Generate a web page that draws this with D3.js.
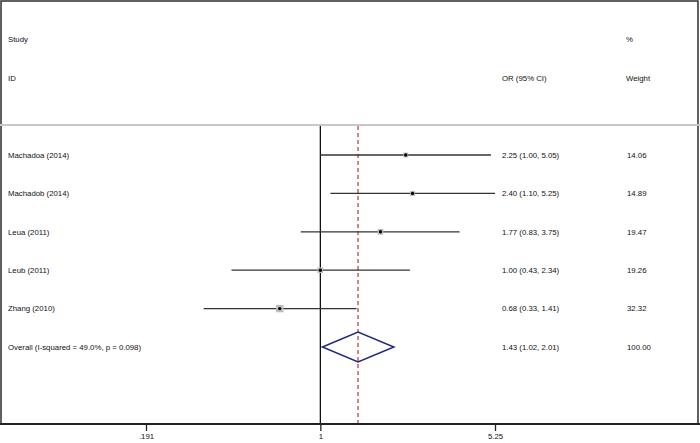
<!DOCTYPE html>
<html>
<head>
<meta charset="utf-8">
<script src="https://cdn.jsdelivr.net/npm/d3@7"></script>
<style>
  body { margin: 0; background: #fff; }
  text { font-family: "Liberation Sans", Arial, sans-serif; fill: #111; }
</style>
</head>
<body>
<div id="forest"></div>
<script>
var width = 700;
var height = 443;

// study data
var studies = ["Machadoa (2014)", "Machadob (2014)", "Leua (2011)", "Leub (2011)", "Zhang (2010)"];
var orValues = [2.25, 2.40, 1.77, 1.00, 0.68];
var lowerCI = [1.00, 1.10, 0.83, 0.43, 0.33];
var upperCI = [5.05, 5.25, 3.75, 2.34, 1.41];
var weights = [14.06, 14.89, 19.47, 19.26, 32.32];
var ciLabels = ["2.25 (1.00, 5.05)", "2.40 (1.10, 5.25)", "1.77 (0.83, 3.75)", "1.00 (0.43, 2.34)", "0.68 (0.33, 1.41)"];
var weightLabels = ["14.06", "14.89", "19.47", "19.26", "32.32"];

// pooled estimate: OR, lower, upper
var overall = [1.43, 1.02, 2.01];
var overallLabel = "Overall  (I-squared = 49.0%, p = 0.098)";
var overallCI = "1.43 (1.02, 2.01)";
var overallWeight = "100.00";

var tickValues = [0.191, 1, 5.25];
var tickLabels = [".191", "1", "5.25"];

var rows = studies.concat(["Overall"]);

var svg = d3.select("#forest")
  .append("svg")
  .attr("width", width)
  .attr("height", height);

var xScale = d3.scaleLog()
  .domain([0.191, 5.25])
  .range([146, 495]);

var yScale = d3.scalePoint()
  .domain(rows)
  .range([155, 347]);

var fs = 7.8;

// frame
svg.append("rect")
  .attr("x", 1).attr("y", 1)
  .attr("width", 697).attr("height", 423)
  .attr("fill", "none")
  .attr("stroke", "#3a3a3a")
  .attr("stroke-width", 1.6);

// header separator
svg.append("line")
  .attr("x1", 0).attr("x2", width)
  .attr("y1", 125).attr("y2", 125)
  .attr("stroke", "#c8c8c8")
  .attr("stroke-width", 2);

// headers
var headers = [
  {t: "Study", x: 8, y: 39},
  {t: "ID", x: 8, y: 78},
  {t: "OR (95% CI)", x: 502, y: 78},
  {t: "%", x: 626, y: 39},
  {t: "Weight", x: 626, y: 78}
];
svg.selectAll(".hdr")
  .data(headers)
  .enter()
  .append("text")
    .attr("class", "hdr")
    .attr("x", function(d) { return d.x; })
    .attr("y", function(d) { return d.y; })
    .attr("dy", "0.35em")
    .attr("font-size", fs)
    .text(function(d) { return d.t; });

// null line
svg.append("line")
  .attr("x1", xScale(1)).attr("x2", xScale(1))
  .attr("y1", 126).attr("y2", 424)
  .attr("stroke", "#111")
  .attr("stroke-width", 1.3);

// overall dashed line
svg.append("line")
  .attr("x1", xScale(overall[0])).attr("x2", xScale(overall[0]))
  .attr("y1", 126).attr("y2", 424)
  .attr("stroke", "#b8323a")
  .attr("stroke-width", 1.2)
  .attr("stroke-dasharray", "4,3");

// confidence intervals
svg.selectAll(".ci")
  .data(studies)
  .enter()
  .append("line")
    .attr("class", "ci")
    .attr("x1", function(d, i) { return xScale(lowerCI[i]); })
    .attr("x2", function(d, i) { return xScale(upperCI[i]); })
    .attr("y1", function(d) { return yScale(d); })
    .attr("y2", function(d) { return yScale(d); })
    .attr("stroke", "#333")
    .attr("stroke-width", 1.3);

// weight boxes
svg.selectAll(".box")
  .data(studies)
  .enter()
  .append("rect")
    .attr("class", "box")
    .attr("x", function(d, i) { return xScale(orValues[i]) - 1.3 * Math.sqrt(weights[i]) / 2; })
    .attr("y", function(d, i) { return yScale(d) - 1.3 * Math.sqrt(weights[i]) / 2; })
    .attr("width", function(d, i) { return 1.3 * Math.sqrt(weights[i]); })
    .attr("height", function(d, i) { return 1.3 * Math.sqrt(weights[i]); })
    .attr("fill", "#bdbdbd");

// point estimates
svg.selectAll(".pt")
  .data(studies)
  .enter()
  .append("circle")
    .attr("class", "pt")
    .attr("cx", function(d, i) { return xScale(orValues[i]); })
    .attr("cy", function(d) { return yScale(d); })
    .attr("r", 1.7)
    .attr("fill", "#000");

// diamond
var yo = yScale("Overall");
var diamond = [
  [xScale(overall[1]), yo],
  [xScale(overall[0]), yo - 15],
  [xScale(overall[2]), yo],
  [xScale(overall[0]), yo + 15]
];
svg.append("polygon")
  .attr("points", diamond.map(function(p) { return p.join(","); }).join(" "))
  .attr("fill", "none")
  .attr("stroke", "#1f2a7a")
  .attr("stroke-width", 1.5);

// row labels
var labels = studies.concat([overallLabel]);
var ciCol = ciLabels.concat([overallCI]);
var wCol = weightLabels.concat([overallWeight]);

svg.selectAll(".lab")
  .data(rows)
  .enter()
  .append("text")
    .attr("class", "lab")
    .attr("x", 8)
    .attr("y", function(d) { return yScale(d); })
    .attr("dy", "0.35em")
    .attr("font-size", fs)
    .text(function(d, i) { return labels[i]; });

svg.selectAll(".cilab")
  .data(rows)
  .enter()
  .append("text")
    .attr("class", "cilab")
    .attr("x", 502)
    .attr("y", function(d) { return yScale(d); })
    .attr("dy", "0.35em")
    .attr("font-size", fs)
    .text(function(d, i) { return ciCol[i]; });

svg.selectAll(".wlab")
  .data(rows)
  .enter()
  .append("text")
    .attr("class", "wlab")
    .attr("x", 627)
    .attr("y", function(d) { return yScale(d); })
    .attr("dy", "0.35em")
    .attr("font-size", fs)
    .text(function(d, i) { return wCol[i]; });

// x axis
var xAxis = svg.append("g")
  .attr("transform", "translate(0,424)")
  .call(d3.axisBottom(xScale)
    .tickValues(tickValues)
    .tickFormat(function(d, i) { return tickLabels[i]; })
    .tickSize(7)
    .tickPadding(2));

xAxis.select(".domain").remove();
xAxis.selectAll(".tick line").attr("stroke", "#222").attr("stroke-width", 1.3);
xAxis.selectAll(".tick text").attr("font-size", fs).attr("fill", "#111");

svg.append("line")
  .attr("x1", 0).attr("x2", width)
  .attr("y1", 424).attr("y2", 424)
  .attr("stroke", "#222")
  .attr("stroke-width", 2);
</script>
</body>
</html>
